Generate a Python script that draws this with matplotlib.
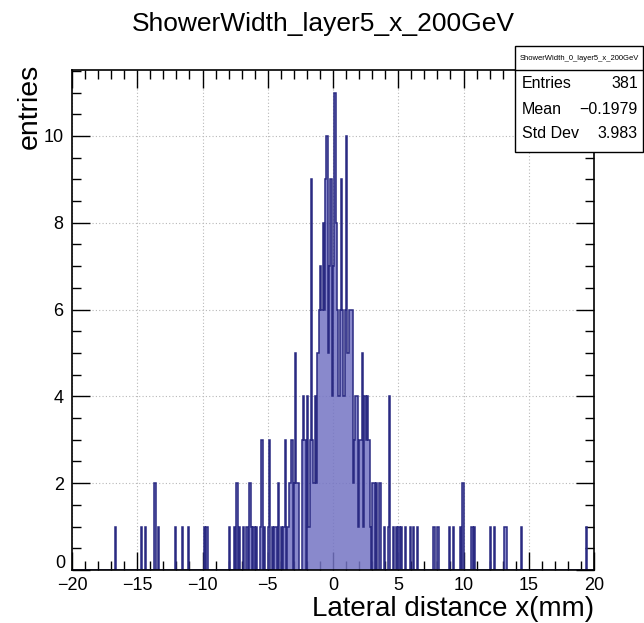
import numpy as np
import matplotlib
matplotlib.use("Agg")
import matplotlib.pyplot as plt
from matplotlib.ticker import MultipleLocator, FuncFormatter
from matplotlib.patches import Rectangle

plt.rcParams['font.family'] = ['Liberation Sans', 'DejaVu Sans']

# histogram contents (bin centre in mm, entries)
x_pos = [-16.65, -14.65, -14.35, -13.65, -13.35, -12.05, -11.55, -11.05, -9.85, -9.65,
         -7.95, -7.55, -7.35, -7.15, -6.85, -6.65, -6.55, -6.35, -6.25, -6.05,
         -5.85, -5.55, -5.45, -5.25, -4.95, -4.85, -4.65, -4.45, -4.35, -4.15,
         -3.95, -3.75, -3.65, -3.45,
         -3.35, -3.25, -3.15, -2.95, -2.85, -2.75, -2.65, -2.35, -2.25, -2.15,
         -1.95, -1.85, -1.75, -1.65, -1.55, -1.45, -1.35, -1.25, -1.15, -1.05,
         -0.95, -0.85, -0.75, -0.65, -0.55, -0.45, -0.35, -0.25, -0.15, -0.05,
         0.05, 0.15, 0.25, 0.35, 0.45, 0.55, 0.65, 0.75, 0.85, 0.95,
         1.05, 1.15, 1.25, 1.35, 1.45, 1.55, 1.65, 1.75, 1.85, 1.95,
         2.05, 2.15, 2.25, 2.35, 2.45, 2.55, 2.65, 2.75, 2.85, 3.05,
         3.15, 3.35, 3.55, 3.65, 3.95, 4.25, 4.35, 4.65, 4.85, 5.05,
         5.25, 5.55, 5.95, 6.15, 6.45, 7.75, 8.05, 8.95, 9.25, 9.75,
         9.95, 10.65, 10.85, 12.05, 12.35, 13.15, 13.25, 14.45, 19.45]
counts = [1, 1, 1, 2, 1, 1, 1, 1, 1, 1,
          1, 1, 2, 1, 1, 1, 1, 2, 1, 1,
          1, 1, 3, 1, 1, 3, 1, 1, 1, 2,
          1, 1, 3, 1,
          2, 2, 3, 2, 5, 2, 2, 3, 4, 3,
          4, 1, 3, 9, 3, 2, 4, 2, 5, 6,
          7, 6, 8, 6, 9, 10, 5, 7, 9, 4,
          7, 11, 8, 6, 4, 6, 9, 6, 4, 6,
          10, 5, 6, 6, 6, 2, 3, 4, 4, 1,
          3, 3, 5, 1, 4, 3, 4, 3, 1, 2,
          2, 2, 2, 2, 1, 1, 4, 1, 1, 1,
          1, 1, 1, 1, 1, 1, 1, 1, 1, 1,
          2, 1, 1, 1, 1, 1, 1, 1, 1]

edges = np.linspace(-20, 20, 401)
hist_vals, _ = np.histogram(x_pos, bins=edges, weights=counts)

title = "ShowerWidth_layer5_x_200GeV"
stats_name = "ShowerWidth_0_layer5_x_200GeV"
stats_rows = [("Entries", "381"), ("Mean", "\u22120.1979"), ("Std Dev", "3.983")]

W, H = 644, 623
fig = plt.figure(figsize=(W / 100, H / 100), dpi=100)
ax = fig.add_axes([72 / W, 53 / H, 522 / W, 500 / H])

ax.stairs(hist_vals, edges, fill=True, color='#7474c4', alpha=0.85)
ax.stairs(hist_vals, edges, color='#2a2a82', linewidth=1.1)

ax.set_xlim(-20, 20)
ax.set_ylim(0, 11.52)
ax.xaxis.set_major_locator(MultipleLocator(5))
ax.xaxis.set_minor_locator(MultipleLocator(1))
ax.yaxis.set_major_locator(MultipleLocator(2))
ax.yaxis.set_minor_locator(MultipleLocator(0.5))
# the "0" of the y axis is written by hand a bit higher, clear of the "-20"
ax.yaxis.set_major_formatter(FuncFormatter(lambda v, p: '' if v == 0 else f'{v:g}'))
ax.tick_params(which='both', direction='in', top=True, right=True, labelsize=13, width=1)
ax.tick_params(axis='x', which='major', length=13, pad=5)
ax.tick_params(axis='y', which='major', length=13, pad=6)
ax.tick_params(which='minor', length=6.5)
ax.grid(True, which='major', linestyle=(0, (1, 2)), color='#b8b8b8', linewidth=0.8)
ax.set_axisbelow(True)
for s in ax.spines.values():
    s.set_linewidth(1.2)
ax.annotate('0', xy=(0, 0), xycoords=('axes fraction', 'data'), xytext=(-4.5, 4.5),
            textcoords='offset points', ha='right', va='center', fontsize=13)

fig.text(323 / W, 1 - 24 / H, title, ha='center', va='center', fontsize=19)
fig.text(594 / W, 1 - 609 / H, "Lateral distance x(mm)", ha='right', va='center', fontsize=20)
fig.text(30 / W, 1 - 64 / H, "entries", rotation=90, ha='center', va='top', fontsize=20.5)

# stats box
bx0, bx1, by0, by1 = 515, 643, 46, 152
fig.add_artist(Rectangle((bx0 / W, 1 - by1 / H), (bx1 - bx0) / W, (by1 - by0) / H,
                         transform=fig.transFigure, facecolor='white', edgecolor='black',
                         linewidth=1.0, zorder=5))
fig.add_artist(plt.Line2D([bx0 / W, bx1 / W], [1 - 70 / H, 1 - 70 / H],
                          transform=fig.transFigure, color='black', linewidth=1.0, zorder=6))
fig.text((bx0 + bx1) / 2 / W, 1 - 58 / H, stats_name, ha='center', va='center',
         fontsize=5.5, zorder=7)
for i, (k, v) in enumerate(stats_rows):
    y = 1 - (84 + 25 * i) / H
    fig.text(522 / W, y, k, ha='left', va='center', fontsize=11.5, zorder=7)
    fig.text(638 / W, y, v, ha='right', va='center', fontsize=11.5, zorder=7)

fig.savefig("out.png", dpi=100)
